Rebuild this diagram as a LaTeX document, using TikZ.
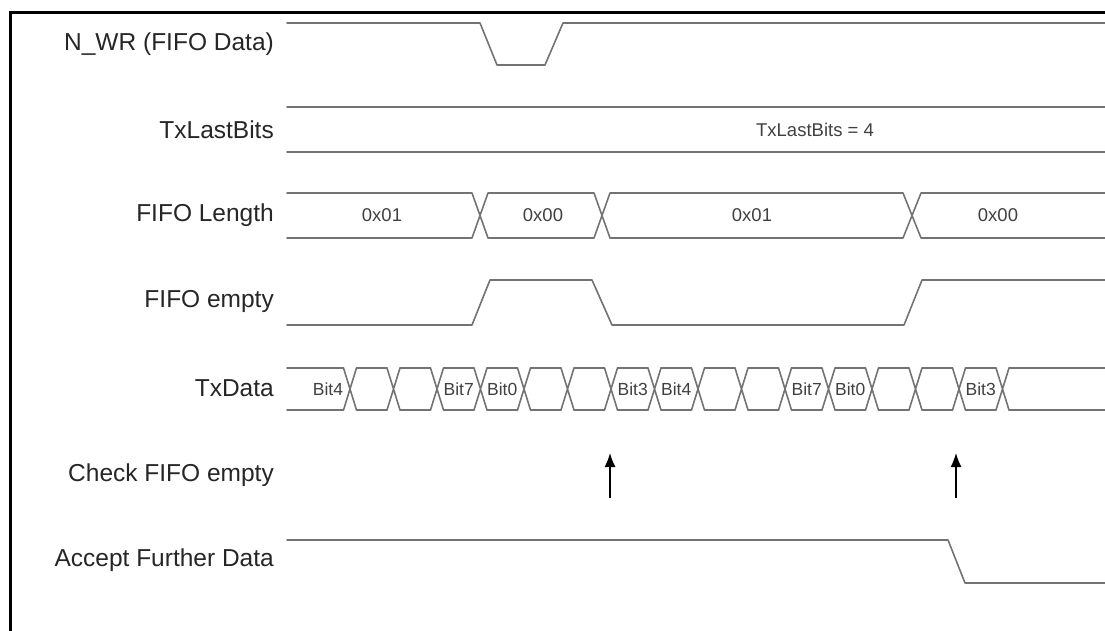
\documentclass[tikz,border=0pt]{standalone}
\usepackage{fontspec}
\setmainfont{Liberation Sans}
\usetikzlibrary{arrows.meta}

\begin{document}
\begin{tikzpicture}[x=1pt, y=-1pt,
  sig/.style = {draw=black!55, line width=1.6pt, line cap=round, line join=round},
  signame/.style = {anchor=east, inner sep=0pt, text=black!85,
    font=\fontsize{24.5}{28}\selectfont},
  val/.style = {inner sep=0pt, text=black!75, font=\fontsize{18.5}{21}\selectfont},
  bit/.style = {inner sep=0pt, text=black!75, font=\fontsize{17.5}{20}\selectfont}]
  \useasboundingbox (0,0) rectangle (1105,631);
  \draw[line width=3pt] (10,640) -- (10,12.5) -- (1110,12.5);

  % signal names
  \node[signame] (nwr)    at (274,44)  {N\_WR (FIFO Data)};
  \node[signame] (last)   at (274,130) {TxLastBits};
  \node[signame] (len)    at (274,215) {FIFO Length};
  \node[signame] (empty)  at (274,301) {FIFO empty};
  \node[signame] (txd)    at (274,388) {TxData};
  \node[signame] (check)  at (274,475) {Check FIFO empty};
  \node[signame] (accept) at (274,560) {Accept Further Data};

  % N_WR
  \draw[sig] (287,23) -- (480,23) -- (497,65) -- (545,65) -- (563,23) -- (1110,23);

  % TxLastBits
  \draw[sig] (287,107) -- (1110,107) (287,152) -- (1110,152);
  \node[val] (lastval) at (815,130) {TxLastBits = 4};

  % FIFO Length
  \draw[sig] (287,193) -- (472,193) -- (488,238) -- (594,238) -- (610,193)
    -- (903,193) -- (921,238) -- (1110,238);
  \draw[sig] (287,238) -- (472,238) -- (488,193) -- (594,193) -- (610,238)
    -- (903,238) -- (921,193) -- (1110,193);
  \node[val] (len1) at (382,215) {0x01};
  \node[val] (len2) at (543,215) {0x00};
  \node[val] (len3) at (752,215) {0x01};
  \node[val] (len4) at (998,215) {0x00};

  % FIFO empty
  \draw[sig] (287,325) -- (472,325) -- (490,280) -- (592,280) -- (612,325)
    -- (904,325) -- (922,280) -- (1110,280);

  % TxData
  \draw[sig] (287,368) -- (343.5,368) (287,410) -- (343.5,410);
  \foreach \k in {0,...,15}
    \draw[sig] ({350+43.5*\k-6.5},368) -- ({350+43.5*\k+6.5},410)
               ({350+43.5*\k-6.5},410) -- ({350+43.5*\k+6.5},368);
  \foreach \k in {0,...,14}
    \draw[sig] ({350+43.5*\k+6.5},368) -- ({393.5+43.5*\k-6.5},368)
               ({350+43.5*\k+6.5},410) -- ({393.5+43.5*\k-6.5},410);
  \draw[sig] (1009,368) -- (1110,368) (1009,410) -- (1110,410);
  \node[bit] (bit0) at (328,389) {Bit4};
  \foreach \i/\t in {3/Bit7, 4/Bit0, 7/Bit3, 8/Bit4, 11/Bit7, 12/Bit0, 15/Bit3}
    \node[bit] (bit\i) at ({328.25+43.5*\i},389) {\t};

  % Check FIFO empty
  \coordinate (chk1) at (610,498);
  \coordinate (chk1t) at (610,453);
  \coordinate (chk2) at (956,498);
  \coordinate (chk2t) at (956,453);
  \draw[-{Latex[length=14pt,width=11pt]}, line width=1.4pt] (chk1) -- (chk1t);
  \draw[-{Latex[length=14pt,width=11pt]}, line width=1.4pt] (chk2) -- (chk2t);

  % Accept Further Data
  \draw[sig] (287,540) -- (948,540) -- (965,583) -- (1110,583);
\end{tikzpicture}
\end{document}
